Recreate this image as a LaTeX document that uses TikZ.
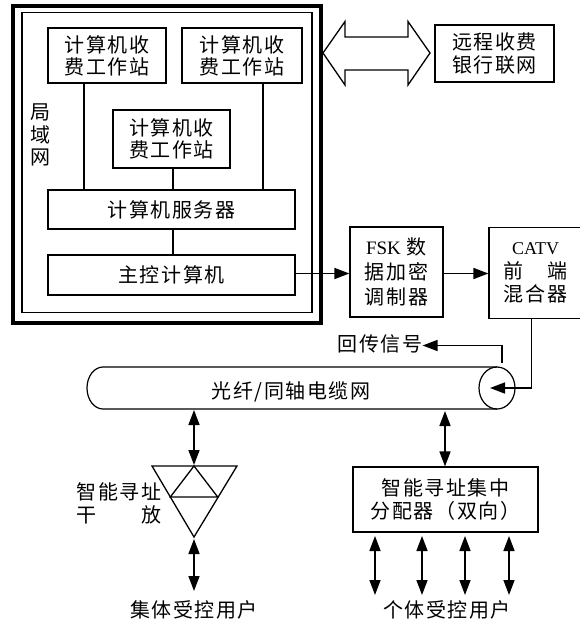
\documentclass[tikz,border=0pt]{standalone}
\usepackage{fontspec}
\newfontfamily\cjk[LetterSpace=8]{Noto Sans CJK SC}
\newfontfamily\lat{Liberation Serif}
\usetikzlibrary{arrows.meta}
\newlength\spreadlen
\newcommand\spreadto[2]{\settowidth\spreadlen{#1}\makebox[\spreadlen][s]{#2}}
\newcommand\cf[1]{\cjk\fontsize{20}{#1}\selectfont}
\tikzset{
  box/.style={draw, line width=1.2pt, inner sep=0pt, align=center},
  txt/.style={inner sep=0pt, align=center},
  conn/.style={line width=1.2pt},
  arr/.style={line width=1.5pt, -{Triangle[length=15pt,width=11pt]}},
  darr/.style={line width=1.5pt, {Triangle[length=15pt,width=11pt]}-{Triangle[length=15pt,width=11pt]}},
}
\begin{document}
\begin{tikzpicture}[x=1pt,y=-1pt]
\useasboundingbox (0,0) rectangle (580,621);
% LAN frame
\draw[line width=4pt] (13,5.5) rectangle (320.5,322.5);
\draw[line width=1.6pt] (21.7,12.5) rectangle (311.7,312.5);
\node[txt, font=\cf{22.5}] (lan) at (40,135) {局\\域\\网};
% workstations
\node[box, minimum width=118, minimum height=55, font=\cf{21.7}] (ws1) at (107,55.5) {计算机收\\费工作站};
\node[box, minimum width=120, minimum height=55, font=\cf{21.7}] (ws2) at (242,55.5) {计算机收\\费工作站};
\node[box, minimum width=117, minimum height=58, font=\cf{21.7}] (ws3) at (171.5,139) {计算机收\\费工作站};
\node[box, minimum width=247, minimum height=39, font=\cf{21.7}] (server) at (171.5,209.5) {计算机服务器};
\node[box, minimum width=247, minimum height=40, font=\cf{21.7}] (main) at (171.5,275) {主控计算机};
\coordinate (l1) at (84,0);
\coordinate (l2) at (263,0);
\coordinate (l3) at (173,0);
\draw[conn] (ws1.south -| l1) -- (server.north -| l1);
\draw[conn] (ws2.south -| l2) -- (server.north -| l2);
\draw[conn] (ws3.south -| l3) -- (server.north -| l3);
\draw[conn] (server.south -| l3) -- (main.north -| l3);
% remote bank
\node[box, minimum width=119, minimum height=57, font=\cf{23}] (remote) at (494.5,53.5) {远程收费\\银行联网};
\draw[line width=1.3pt, line join=miter] (323,53) -- (345,21.5) -- (345,37) -- (408,37) -- (408,21.5) -- (430,53) -- (408,85) -- (408,70) -- (345,70) -- (345,85) -- cycle;
% FSK and CATV
\node[box, minimum width=93, minimum height=90, font=\cf{25}] (fsk) at (396.5,272) {{\lat\fontsize{19}{25}\selectfont FSK} 数\\据加密\\调制器};
\node[box, minimum width=93, minimum height=91, font=\cf{23.5}] (catv) at (535.5,273) {{\lat\fontsize{18}{23.5}\selectfont CATV}\\\spreadto{混合器}{前\hfill 端}\\混合器};
\coordinate (r1) at (0,273.5);
\draw[arr] (main.east |- r1) -- (fsk.west |- r1);
\draw[arr] (fsk.east |- r1) -- (catv.west |- r1);
% cable
\coordinate (cl) at (103,367);
\coordinate (cr) at (497,388);
\draw[line width=1.2pt] (497,367) -- (cl) arc[start angle=-90, end angle=-270, x radius=16, y radius=21] -- (497,409);
\draw[line width=1.2pt] (cr) ellipse[x radius=18, y radius=21];
\node[txt, font=\cf{20}] (cable) at (291,392) {光纤/同轴电缆网};
\coordinate (cin) at (490,388);
\coordinate (cx) at (531.5,0);
\draw[arr] (catv.south -| cx) -- (cx |- cin) -- (cin);
\node[txt, font=\cf{20}] (ret) at (380,344) {回传信号};
\coordinate (rb) at (502,363);
\draw[arr] (rb) -- (502,345.5) -- (ret.east |- 0,345.5);
% trunk amplifier
\coordinate (ta) at (152,466);
\coordinate (tb) at (237,466);
\coordinate (tc) at (194,537);
\draw[line width=1.3pt, line join=miter] (ta) -- (tb) -- (tc) -- cycle;
\draw[line width=1.3pt] (170.3,497) -- (194,466) -- (217.7,497) -- cycle;
\draw[darr] (194,410) -- (194,465);
\draw[darr] (194,539) -- (194,591);
\node[txt, font=\cf{23}, align=left] (amp) at (119,503) {智能寻址\\\spreadto{智能寻址}{干\hfill 放}};
\node[txt, font=\cf{20}] (grp) at (194,610) {集体受控用户};
% distributor
\node[box, minimum width=185, minimum height=65, font=\cf{23}] (dist) at (445.5,499.5) {智能寻址集中\\分配器（双向）};
\draw[darr] (445,411) -- (dist.north -| 445,0);
\foreach \xx in {375,422,465,509} {
  \draw[darr] (\xx,536) -- (\xx,595);
}
\node[txt, font=\cf{20}] (ind) at (447,609.5) {个体受控用户};
\end{tikzpicture}
\end{document}
